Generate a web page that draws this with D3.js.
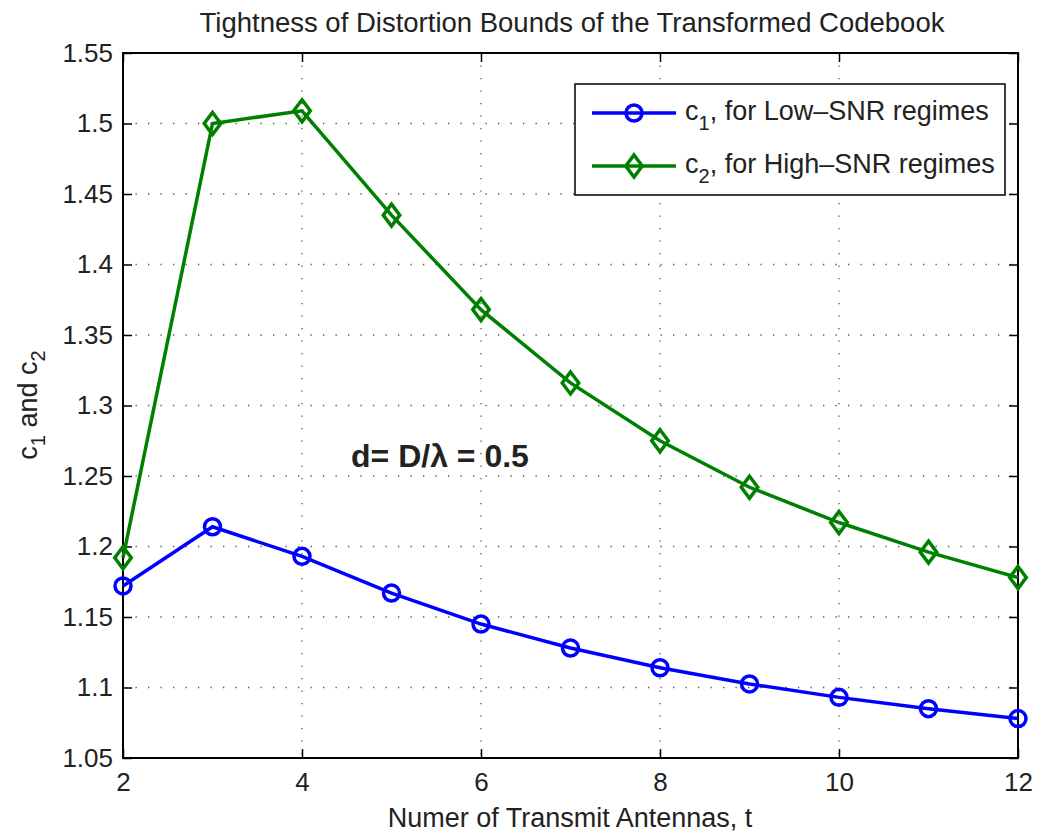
<!DOCTYPE html>
<html><head><meta charset="utf-8">
<script src="https://cdn.jsdelivr.net/npm/d3@7"></script>
<style>body{margin:0;background:#fff}svg{display:block}text{font-family:"Liberation Sans",Arial,Helvetica,sans-serif}</style>
</head><body>
<svg id="c" width="1037" height="832"></svg>
<script>
const antennas = [2,3,4,5,6,7,8,9,10,11,12];
const c1 = [1.172,1.214,1.193,1.167,1.145,1.128,1.114,1.1025,1.093,1.085,1.078];
const c2 = [1.192,1.500,1.509,1.435,1.368,1.316,1.275,1.242,1.217,1.196,1.178];
const xTicks = [2,4,6,8,10,12];
const yTicks = [1.05,1.1,1.15,1.2,1.25,1.3,1.35,1.4,1.45,1.5,1.55];
const seriesNames = ["c\u2081, for Low\u2013SNR regimes","c\u2082, for High\u2013SNR regimes"];

const svg = d3.select("#c");
const L=123,R=1018,T=53,B=758;
const x = d3.scaleLinear().domain([2,12]).range([L,R]);
const y = d3.scaleLinear().domain([1.05,1.55]).range([B,T]);
const FONT = "Liberation Sans, Arial, sans-serif";

// grid
const g = svg.append("g");
xTicks.slice(1,-1).forEach(t=>g.append("line").attr("x1",x(t)).attr("x2",x(t)).attr("y1",T).attr("y2",B)
  .attr("stroke","#555").attr("stroke-width",1.3).attr("stroke-dasharray","1.3,11.2"));
yTicks.slice(1,-1).forEach(t=>g.append("line").attr("y1",y(t)).attr("y2",y(t)).attr("x1",L).attr("x2",R)
  .attr("stroke","#555").attr("stroke-width",1.3).attr("stroke-dasharray","1.3,11.2"));

// axes
const fmt = d=>String(+d.toFixed(2));
const styleTxt = a=>{a.select(".domain").remove();a.selectAll("line").attr("stroke","#000").attr("stroke-width",1.5);
  a.selectAll("text").attr("font-size",26).attr("fill","#222").attr("font-family",FONT);};
svg.append("g").attr("transform",`translate(0,${B})`)
  .call(d3.axisBottom(x).tickValues(xTicks).tickSizeInner(-9).tickSizeOuter(0).tickPadding(15).tickFormat(d3.format("d")))
  .call(styleTxt);
svg.append("g").attr("transform",`translate(0,${T})`)
  .call(d3.axisTop(x).tickValues(xTicks).tickSizeInner(-9).tickSizeOuter(0).tickFormat(""))
  .call(styleTxt);
svg.append("g").attr("transform",`translate(${L},0)`)
  .call(d3.axisLeft(y).tickValues(yTicks).tickSizeInner(-9).tickSizeOuter(0).tickPadding(10).tickFormat(fmt))
  .call(styleTxt);
svg.append("g").attr("transform",`translate(${R},0)`)
  .call(d3.axisRight(y).tickValues(yTicks).tickSizeInner(-9).tickSizeOuter(0).tickFormat(""))
  .call(styleTxt);
svg.append("rect").attr("x",L).attr("y",T).attr("width",R-L).attr("height",B-T)
  .attr("fill","none").attr("stroke","#000").attr("stroke-width",2);

// lines
const line = d3.line().x((d,i)=>x(antennas[i])).y(d=>y(d));
const blue="#0000ff", green="#008000";
svg.append("path").datum(c1).attr("d",line).attr("fill","none").attr("stroke",blue).attr("stroke-width",3.5);
svg.append("path").datum(c2).attr("d",line).attr("fill","none").attr("stroke",green).attr("stroke-width",3.5);
const diamond = (cx,cy,s)=>`M${cx},${cy-s}L${cx+s*0.75},${cy}L${cx},${cy+s}L${cx-s*0.75},${cy}Z`;
svg.append("g").selectAll("circle").data(c1).join("circle")
  .attr("cx",(d,i)=>x(antennas[i])).attr("cy",d=>y(d)).attr("r",8)
  .attr("fill","none").attr("stroke",blue).attr("stroke-width",3.5);
svg.append("g").selectAll("path").data(c2).join("path")
  .attr("d",(d,i)=>diamond(x(antennas[i]),y(d),11))
  .attr("fill","none").attr("stroke",green).attr("stroke-width",3.5);

// legend
const lg = svg.append("g");
lg.append("rect").attr("x",575).attr("y",84).attr("width",430).attr("height",111).attr("fill","#fff").attr("stroke","#000").attr("stroke-width",1.5);
const rows=[{c:blue,y:113,m:"o"},{c:green,y:166,m:"d"}];
rows.forEach((r,i)=>{
  lg.append("line").attr("x1",592).attr("x2",676).attr("y1",r.y).attr("y2",r.y).attr("stroke",r.c).attr("stroke-width",3.5);
  if(r.m==="o") lg.append("circle").attr("cx",634).attr("cy",r.y).attr("r",8).attr("fill","none").attr("stroke",r.c).attr("stroke-width",3.5);
  else lg.append("path").attr("d",diamond(634,r.y,11)).attr("fill","none").attr("stroke",r.c).attr("stroke-width",3.5);
  const t = lg.append("text").attr("x",685).attr("y",r.y+7).attr("font-size",27).attr("fill","#222");
  t.append("tspan").text("c");
  t.append("tspan").attr("font-size",20).attr("dy",10).text(String(i+1));
  t.append("tspan").attr("dy",-10).text(seriesNames[i].slice(2));
});

// annotation
svg.append("text").attr("x",351).attr("y",467).attr("font-size",32).attr("font-weight","bold").attr("fill","#222").text("d= D/\u03bb = 0.5");

// title & labels
svg.append("text").attr("x",572).attr("y",32).attr("text-anchor","middle").attr("font-size",27.5).attr("fill","#222").text("Tightness of Distortion Bounds of the Transformed Codebook");
svg.append("text").attr("x",570).attr("y",827).attr("text-anchor","middle").attr("font-size",27).attr("fill","#222").text("Numer of Transmit Antennas, t");
const yl = svg.append("text").attr("transform","translate(37,405) rotate(-90)").attr("text-anchor","middle").attr("font-size",27).attr("fill","#222");
yl.append("tspan").text("c");
yl.append("tspan").attr("font-size",20).attr("dy",8).text("1");
yl.append("tspan").attr("dy",-8).text(" and c");
yl.append("tspan").attr("font-size",20).attr("dy",8).text("2");
</script>
</body></html>
